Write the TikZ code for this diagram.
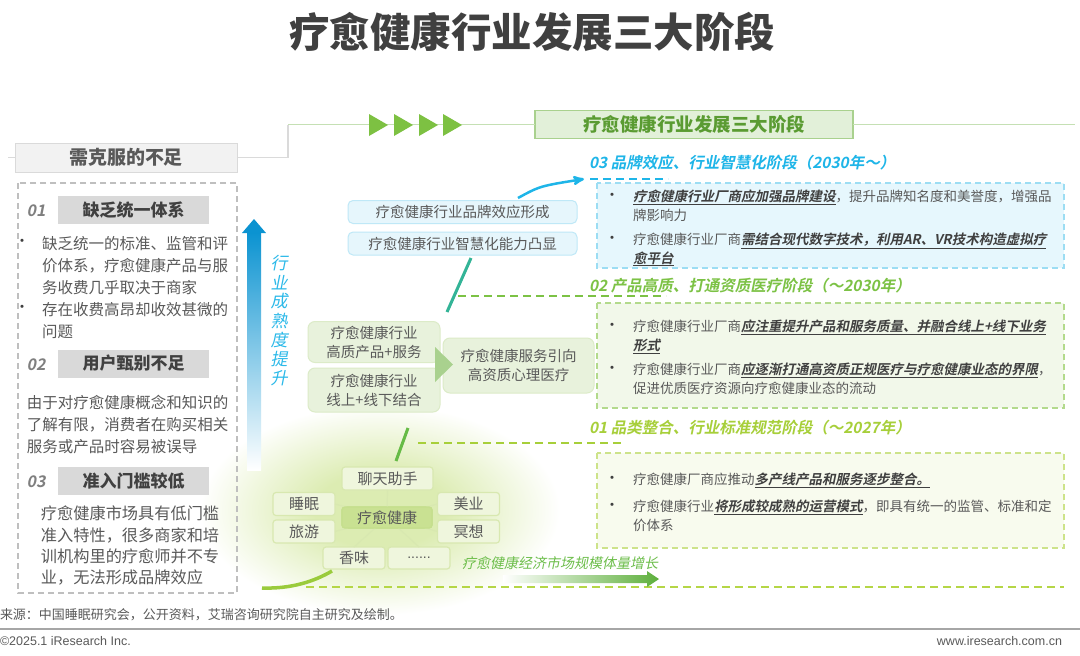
\documentclass[tikz,border=0pt]{standalone}
\usepackage{fontspec}
\setmainfont{Noto Sans CJK SC}[
  ItalicFont=Noto Sans CJK SC, ItalicFeatures={FakeSlant=0.2},
  BoldItalicFont=Noto Sans CJK SC Bold, BoldItalicFeatures={FakeSlant=0.2}]
\newfontfamily\latinsans{Liberation Sans}
\usetikzlibrary{calc}
\usetikzlibrary{arrows}

\definecolor{ink}{HTML}{404040}
\definecolor{txt}{HTML}{595959}
\definecolor{numgray}{HTML}{7F7F7F}
\definecolor{tagfill}{HTML}{D9D9D9}
\definecolor{hdrfill}{HTML}{F2F2F2}
\definecolor{hdrline}{HTML}{DADADA}
\definecolor{framegray}{HTML}{BFBFBF}
\definecolor{topline}{HTML}{C5E0B4}
\definecolor{trigreen}{HTML}{7DC142}
\definecolor{ttlfill}{HTML}{E2F0D9}
\definecolor{ttlline}{HTML}{A9D18E}
\definecolor{ttltext}{HTML}{5A9B32}
\definecolor{stagec}{HTML}{1EB5E8}
\definecolor{stagecfill}{HTML}{E6F7FD}
\definecolor{stagecline}{HTML}{9CDDF3}
\definecolor{stageb}{HTML}{7CC245}
\definecolor{stagebfill}{HTML}{F2F8EA}
\definecolor{stagebline}{HTML}{B3DA8C}
\definecolor{stagea}{HTML}{A7CF3A}
\definecolor{stageafill}{HTML}{F8FBEE}
\definecolor{stagealine}{HTML}{CDE38A}
\definecolor{bluefill}{HTML}{E6F6FC}
\definecolor{blueline}{HTML}{BFE8F7}
\definecolor{midfill}{HTML}{E8F2DC}
\definecolor{midline}{HTML}{DCEBC8}
\definecolor{chipfill}{HTML}{EFF6DD}
\definecolor{chipline}{HTML}{D8E8B0}
\definecolor{corefill}{HTML}{C9E192}
\definecolor{glow}{HTML}{DCECB2}
\definecolor{arrowblue}{HTML}{0B93D1}
\definecolor{skyblue}{HTML}{25C1EE}
\definecolor{vtext}{HTML}{2BB9E9}
\definecolor{tealline}{HTML}{33B497}
\definecolor{leaf}{HTML}{66BB46}
\definecolor{lime}{HTML}{9ACB3C}
\definecolor{growgreen}{HTML}{5DAF3B}
\definecolor{growtext}{HTML}{6DBE4B}
\definecolor{dashlime}{HTML}{B5D646}
\definecolor{footgray}{HTML}{A6A6A6}

\pgfdeclareradialshading{glowshade}{\pgfpoint{0bp}{0bp}}{color(0bp)=(glow); color(9bp)=(glow); color(25bp)=(white); color(50bp)=(white)}

\newcommand\fsz[2]{\fontsize{#1pt}{#2pt}\selectfont}
\newcommand\key[1]{\textcolor{ink}{\underline{\textbf{\textit{#1}}}}}

\begin{document}
\begin{tikzpicture}[x=1pt, y=-1pt,
  every node/.style={inner sep=0pt, outer sep=0pt, text=txt},
  tagbox/.style={fill=tagfill, minimum width=151, minimum height=28, font=\fsz{17}{20}\bfseries, text=ink},
  numtag/.style={font=\fsz{16}{18}\bfseries\itshape, text=numgray},
  lefttxt/.style={anchor=north west, align=left, font=\fsz{15.5}{22}},
  bulletdot/.style={font=\fsz{15}{15}, text=ink},
  stagetitle/.style={anchor=west, font=\fsz{15.5}{18}\bfseries\itshape},
  stagebox/.style={dash pattern=on 6pt off 4pt, line width=1.5},
  bodytxt/.style={anchor=north west, align=left, font=\fsz{13.5}{18.5}},
  linkdash/.style={dash pattern=on 8pt off 5pt, line width=2},
  bluebox/.style={fill=bluefill, draw=blueline, line width=1, rounded corners=5, minimum width=229, minimum height=23, font=\fsz{14.5}{17}},
  midbox/.style={fill=midfill, draw=midline, line width=1, rounded corners=7, align=center, font=\fsz{14.5}{19}},
  chip/.style={fill=chipfill, draw=chipline, line width=1.2, rounded corners=3, minimum width=62, minimum height=23, font=\fsz{15}{17}},
]
\useasboundingbox (0,0) rectangle (1080,656);
\fill[white] (0,0) rectangle (1080,656);
% glow under the cluster
\shade[shading=glowshade] (380,510) ellipse [x radius=180, y radius=105];

% title
\node[font=\fsz{40.5}{44}\bfseries, text=ink] (title) at (532,32) {疗愈健康行业发展三大阶段};

% top rule with the two headers
\node[fill=hdrfill, draw=hdrline, line width=1, minimum width=222, minimum height=29, font=\fsz{19}{22}\bfseries, text=txt] (need) at (126,157.5) {需克服的不足};
\node[fill=ttlfill, draw=ttlline, line width=1.5, minimum width=318, minimum height=28, font=\fsz{18.5}{21}\bfseries, text=ttltext] (phase) at (694,124.5) {疗愈健康行业发展三大阶段};
\coordinate (lstart) at (8,157.5);
\coordinate (turn) at (288,124.5);
\coordinate (rend) at (1075,124.5);
\draw[hdrline, line width=1.5] (lstart) -- (need.west);
\draw[hdrline, line width=1.5] (need.east) -- (turn |- need.east) -- (turn);
\draw[topline, line width=1.5] (turn) -- (phase.west);
\draw[topline, line width=1.5] (phase.east) -- (rend);
\foreach \x in {369,394,419,443}
  \fill[trigreen] (\x,114) -- (\x+19,125) -- (\x,136) -- cycle;

% shortcomings
\draw[framegray, line width=1.5, dash pattern=on 6pt off 4pt] (18,183) rectangle (237,593);
\node[numtag] (n1) at (36,211) {01};
\node[tagbox] (t1) at (133.5,210) {缺乏统一体系};
\node[bulletdot] (d1) at (22,243) {•};
\node[lefttxt] (p1) at (42,236) {缺乏统一的标准、监管和评\\价体系，疗愈健康产品与服\\务收费几乎取决于商家};
\node[bulletdot] (d2) at (22,309) {•};
\node[lefttxt] (p2) at (42,302) {存在收费高昂却收效甚微的\\问题};
\node[numtag] (n2) at (36,365) {02};
\node[tagbox] (t2) at (133.5,363.5) {用户甄别不足};
\node[lefttxt] (p3) at (27,395) {由于对疗愈健康概念和知识的\\了解有限，消费者在购买相关\\服务或产品时容易被误导};
\node[numtag] (n3) at (36,482) {03};
\node[tagbox] (t3) at (133.5,480.5) {准入门槛较低};
\node[lefttxt, font=\fsz{16.2}{21.4}] (p4) at (41,506) {疗愈健康市场具有低门槛\\准入特性，很多商家和培\\训机构里的疗愈师并不专\\业，无法形成品牌效应};

% maturity arrow
\shade[top color=arrowblue, middle color=skyblue, bottom color=white] (247,232) rectangle (261,470);
\fill[arrowblue] (242,233) -- (254,219) -- (266,233) -- cycle;
\foreach \c [count=\i] in {行,业,成,熟,度,提,升}
  \node[font=\fsz{17}{19}\itshape, text=vtext] (v\i) at (279,263+19.2*\i-19.2) {\c};

% cluster
\node[chip, fill=corefill, draw=chipline!70!lime, minimum width=90, minimum height=21] (core) at (387,517.5) {疗愈健康};
\node[chip, minimum width=91] (chat) at (387.5,478.5) {聊天助手};
\node[chip] (sleep) at (304,504) {睡眠};
\node[chip] (trip) at (304,531.5) {旅游};
\node[chip] (beauty) at (468.5,504) {美业};
\node[chip] (medit) at (468.5,531.5) {冥想};
\node[chip, minimum height=22] (scent) at (354,558) {香味};
\node[chip, minimum height=22, font=\latinsans\fsz{14}{16}] (more) at (419,558) {......};
\foreach \n/\a in {chat/south, sleep/east, trip/east, beauty/west, medit/west, scent/north, more/north}
  \draw[chipline, line width=1.2] (core) -- (\n.\a);
\node[chip, fill=corefill, draw=chipline!70!lime, minimum width=90, minimum height=21] (core) at (387,517.5) {疗愈健康};

% middle steps
\node[bluebox] (f1) at (462.5,212) {疗愈健康行业品牌效应形成};
\node[bluebox] (f2) at (462.5,243.5) {疗愈健康行业智慧化能力凸显};
\node[midbox, minimum width=132, minimum height=41] (q1) at (374,342) {疗愈健康行业\\高质产品+服务};
\node[midbox, minimum width=132, minimum height=44] (q2) at (374,390) {疗愈健康行业\\线上+线下结合};
\node[midbox, minimum width=151, minimum height=55] (q3) at (518.5,365.5) {疗愈健康服务引向\\高资质心理医疗};
\fill[ttlline] (435,347) -- (453,364.5) -- (435,382) -- cycle;

% step line pieces
\coordinate (s1) at (471,258); \coordinate (s2) at (447,312);
\draw[tealline, line width=3] (s1) -- (s2);
\coordinate (s3) at (408,428); \coordinate (s4) at (396,461);
\draw[leaf, line width=3] (s3) -- (s4);
\coordinate (s5) at (262,588); \coordinate (s6) at (332,571);
\draw[lime, line width=3.5] (s5) .. controls (292,589) and (315,581) .. (s6);
\coordinate (c0) at (518,198); \coordinate (c1) at (584,179);
\draw[stagec, line width=2.5, ->, >=stealth'] (c0) .. controls (540,186) .. (c1);

% stage 03
\node[stagetitle, text=stagec] (h3) at (589,163) {03 品牌效应、行业智慧化阶段（2030年～）};
\draw[stagec, linkdash] (590,179) -- (668,179);
\draw[stagebox, draw=stagecline, fill=stagecfill] (597,183) rectangle (1064,268);
\node[bulletdot] (e1) at (612,197) {•};
\node[bodytxt] (r1) at (633,190) {\key{疗愈健康行业厂商应加强品牌建设}，提升品牌知名度和美誉度，增强品\\牌影响力};
\node[bulletdot] (e2) at (612,240) {•};
\node[bodytxt] (r2) at (633,233) {疗愈健康行业厂商\key{需结合现代数字技术，利用AR、VR技术构造虚拟疗}\\\key{愈平台}};

% stage 02
\node[stagetitle, text=stageb] (h2) at (589,286) {02 产品高质、打通资质医疗阶段（～2030年）};
\draw[stageb, linkdash] (458,296) -- (666,296);
\draw[stagebox, draw=stagebline, fill=stagebfill] (597,303) rectangle (1064,408);
\node[bulletdot] (e3) at (612,327) {•};
\node[bodytxt] (r3) at (633,320) {疗愈健康行业厂商\key{应注重提升产品和服务质量、并融合线上+线下业务}\\\key{形式}};
\node[bulletdot] (e4) at (612,370) {•};
\node[bodytxt] (r4) at (633,363) {疗愈健康行业厂商\key{应逐渐打通高资质正规医疗与疗愈健康业态的界限}，\\促进优质医疗资源向疗愈健康业态的流动};

% stage 01
\node[stagetitle, text=stagea] (h1) at (589,428) {01 品类整合、行业标准规范阶段（～2027年）};
\draw[stagea, linkdash] (418,443) -- (623,443);
\draw[stagebox, draw=stagealine, fill=stageafill] (597,453) rectangle (1064,548);
\node[bulletdot] (e5) at (612,480) {•};
\node[bodytxt] (r5) at (633,473) {疗愈健康厂商应推动\key{多产线产品和服务逐步整合。}};
\node[bulletdot] (e6) at (612,507) {•};
\node[bodytxt] (r6) at (633,500) {疗愈健康行业\key{将形成较成熟的运营模式}，即具有统一的监管、标准和定\\价体系};

% market growth
\draw[dashlime, linkdash] (306,587) -- (1064,587);
\shade[left color=white, right color=growgreen] (503,575) -- (647,575) -- (647,571) -- (659,579) -- (647,587) -- (647,583) -- (503,583) -- cycle;
\node[font=\fsz{14}{16}\itshape, text=growtext] (grow) at (560,563) {疗愈健康经济市场规模体量增长};

% footer
\node[anchor=west, font=\fsz{13}{15}] (src) at (0,615) {来源：中国睡眠研究会，公开资料，艾瑞咨询研究院自主研究及绘制。};
\coordinate (fl) at (0,629); \coordinate (fr) at (1080,629);
\draw[footgray, line width=1.5] (fl) -- (fr);
\node[anchor=west, font=\latinsans\fsz{12.5}{14}] (copy) at (0,641) {©2025.1 iResearch Inc.};
\node[anchor=east, font=\latinsans\fsz{12.5}{14}] (web) at (1062,641) {www.iresearch.com.cn};
\end{tikzpicture}
\end{document}
